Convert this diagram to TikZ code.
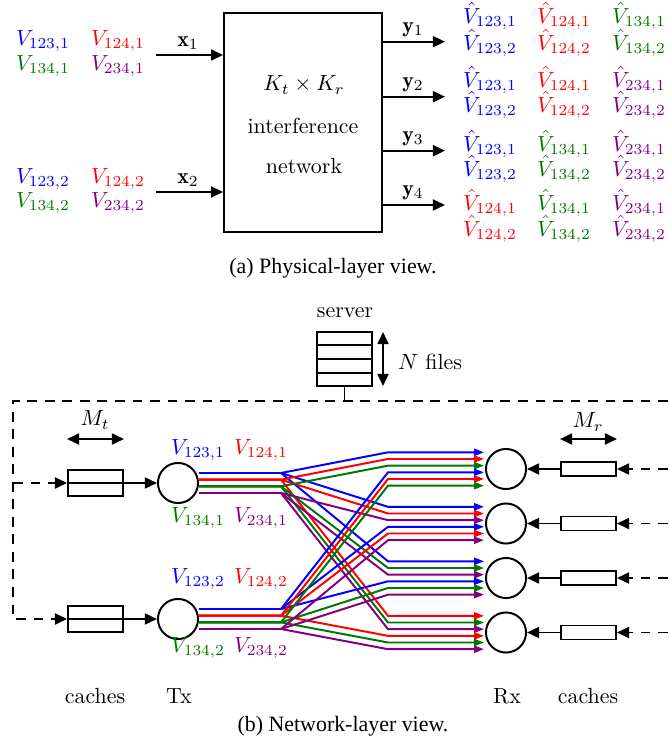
\documentclass[tikz,border=0pt]{standalone}
\usepackage{fontspec}
\newfontfamily\capfont{Liberation Serif}
\usetikzlibrary{arrows.meta,calc}
\definecolor{fblue}{RGB}{0,0,255}
\definecolor{fred}{RGB}{255,0,0}
\definecolor{fgreen}{RGB}{0,120,0}
\definecolor{fpurple}{RGB}{128,0,128}
\begin{document}
\begin{tikzpicture}[x=0.4566pt,y=-0.4566pt,
  blk/.style={line width=0.9pt},
  barrow/.style={-{Triangle[length=5.5pt,width=5pt]}},
  dbarrow/.style={{Triangle[length=5.5pt,width=5pt]}-{Triangle[length=5.5pt,width=5pt]}},
  carrow/.style={line width=0.9pt,-{Triangle[length=4.5pt,width=3.2pt]}},
  dsh/.style={line width=0.9pt,dash pattern=on 4.5pt off 3.5pt},
  circ/.style={draw,circle,line width=0.9pt,minimum size=18.3pt,inner sep=0pt},
  txcache/.style={draw,rectangle,line width=0.9pt,minimum width=25.1pt,minimum height=11.9pt,inner sep=0pt},
  rxcache/.style={draw,rectangle,line width=0.9pt,minimum width=25.1pt,minimum height=6.4pt,inner sep=0pt},
  lbl/.style={inner sep=0pt},
]
\useasboundingbox (0,0) rectangle (668,740);

% ---------------- (a) physical-layer view ----------------
\node[lbl,text=fblue]   (a1) at (43,41)  {$V_{123,1}$};
\node[lbl,text=fred]    (a2) at (118,41) {$V_{124,1}$};
\node[lbl,text=fgreen]  (a3) at (43,66)  {$V_{134,1}$};
\node[lbl,text=fpurple] (a4) at (118,66) {$V_{234,1}$};
\node[lbl,text=fblue]   (b1) at (43,179)  {$V_{123,2}$};
\node[lbl,text=fred]    (b2) at (118,179) {$V_{124,2}$};
\node[lbl,text=fgreen]  (b3) at (43,203)  {$V_{134,2}$};
\node[lbl,text=fpurple] (b4) at (118,203) {$V_{234,2}$};

\node[draw,blk,minimum width=72.1pt,minimum height=100pt,inner sep=0pt] (net) at (303,122.5) {};
\node[lbl] (kt)   at (304,85)  {$K_t \times K_r$};
\node[lbl] (intf) at (303,126) {interference};
\node[lbl] (netw) at (304,166) {network};

\coordinate (x1s) at (156,55);
\coordinate (x2s) at (156,192);
\draw[blk,barrow] (x1s) -- (x1s -| net.west);
\draw[blk,barrow] (x2s) -- (x2s -| net.west);
\node[lbl] (x1l) at (188,43)  {$\mathbf{x}_1$};
\node[lbl] (x2l) at (188,180) {$\mathbf{x}_2$};

\foreach \n/\yy/\ly in {1/41.7/30, 2/96.7/85, 3/150.7/139, 4/205/193} {
  \coordinate (ye\n) at (445,\yy);
  \draw[blk,barrow] (ye\n -| net.east) -- (ye\n);
  \node[lbl] (yl\n) at (413,\ly) {$\mathbf{y}_\n$};
}

\foreach \g/\ya/\yb/\fa/\ca/\fb/\cb/\fc/\cc in
  {1/16/43/123/fblue/124/fred/134/fgreen,
   2/80/105/123/fblue/124/fred/234/fpurple,
   3/144/169/123/fblue/134/fgreen/234/fpurple,
   4/203/229/124/fred/134/fgreen/234/fpurple} {
  \node[lbl,text=\ca] (h\g a1) at (490,\ya) {$\hat{V}_{\fa,1}$};
  \node[lbl,text=\cb] (h\g b1) at (564,\ya) {$\hat{V}_{\fb,1}$};
  \node[lbl,text=\cc] (h\g c1) at (639,\ya) {$\hat{V}_{\fc,1}$};
  \node[lbl,text=\ca] (h\g a2) at (490,\yb) {$\hat{V}_{\fa,2}$};
  \node[lbl,text=\cb] (h\g b2) at (564,\yb) {$\hat{V}_{\fb,2}$};
  \node[lbl,text=\cc] (h\g c2) at (639,\yb) {$\hat{V}_{\fc,2}$};
}

\node[lbl,font=\capfont] (capa) at (333,268) {(a) Physical-layer view.};

% ---------------- (b) network-layer view ----------------
\node[lbl] (srvlbl) at (345,313) {server};
\node[draw,blk,minimum width=25.1pt,minimum height=24.7pt,inner sep=0pt] (srv) at (344.5,359) {};
\foreach \f in {0.25,0.5,0.75}
  \draw[blk] ($(srv.north west)!\f!(srv.south west)$) -- ($(srv.north east)!\f!(srv.south east)$);
\coordinate (nt) at (383,332);
\coordinate (nb) at (383,386);
\draw[blk,dbarrow] (nt) -- (nb);
\node[lbl] (nf) at (430,362) {$N$ files};

\coordinate (dtl) at (13,401);
\coordinate (dtr) at (668,401);
\draw[blk] (srv.south) -- (srv.south |- dtl);

% Tx side
\node[txcache] (tc1) at (95.5,483) {};
\node[txcache] (tc2) at (95.5,619) {};
\node[circ] (tx1) at (178,483) {};
\node[circ] (tx2) at (178,619) {};
\draw[dsh,barrow] (dtr) -- (dtl) |- (tc2.west);
\draw[dsh,barrow] (dtl |- tc1.west) -- (tc1.west);
\draw[blk,barrow] (tc1.west) -- (tx1);
\draw[blk,barrow] (tc2.west) -- (tx2);
\coordinate (mtl) at (67,439);
\coordinate (mtr) at (124,439);
\draw[blk,dbarrow] (mtl) -- (mtr);
\node[lbl] (mt) at (95,420) {$M_t$};

\node[lbl,text=fblue]   (t11) at (198,450) {$V_{123,1}$};
\node[lbl,text=fred]    (t12) at (261,450) {$V_{124,1}$};
\node[lbl,text=fgreen]  (t13) at (198,518) {$V_{134,1}$};
\node[lbl,text=fpurple] (t14) at (261,518) {$V_{234,1}$};
\node[lbl,text=fblue]   (t21) at (198,579) {$V_{123,2}$};
\node[lbl,text=fred]    (t22) at (261,579) {$V_{124,2}$};
\node[lbl,text=fgreen]  (t23) at (198,648) {$V_{134,2}$};
\node[lbl,text=fpurple] (t24) at (261,648) {$V_{234,2}$};

% Rx side
\foreach \k/\yc in {1/469,2/523.5,3/578,4/632.5} {
  \node[circ] (rx\k) at (506,\yc) {};
  \node[rxcache] (rc\k) at (588.5,\yc) {};
  \coordinate (re\k) at (668,\yc);
  \draw[blk,barrow] (rc\k.west) -- (rx\k);
  \draw[dsh,barrow] (re\k) -- (rc\k.east);
  \foreach \m in {0,...,5}
    \coordinate (e\k\m) at (484,{\yc+(\m-2.5)*6.67});
}
\coordinate (mrl) at (560,439);
\coordinate (mrr) at (617,439);
\draw[blk,dbarrow] (mrl) -- (mrr);
\node[lbl] (mr) at (588,422) {$M_r$};

\foreach \j/\yc in {1/483,2/619}
  \foreach \i in {0,...,3}
    \coordinate (s\j\i) at (199,{\yc+(\i-1.5)*6.67});

\foreach \j/\i/\k/\m/\c in {
  1/0/1/0/fblue, 1/0/2/0/fblue, 1/0/3/0/fblue,
  1/1/1/1/fred, 1/1/2/1/fred, 1/1/4/0/fred,
  1/2/1/2/fgreen, 1/2/3/1/fgreen, 1/2/4/1/fgreen,
  1/3/2/2/fpurple, 1/3/3/2/fpurple, 1/3/4/2/fpurple,
  2/0/1/3/fblue, 2/0/2/3/fblue, 2/0/3/3/fblue,
  2/1/1/4/fred, 2/1/2/4/fred, 2/1/4/3/fred,
  2/2/1/5/fgreen, 2/2/3/4/fgreen, 2/2/4/4/fgreen,
  2/3/2/5/fpurple, 2/3/3/5/fpurple, 2/3/4/5/fpurple} {
  \draw[carrow,\c] (s\j\i) -- ++(82,0) -- ($(e\k\m)+(-96,0)$) -- (e\k\m);
}

\node[lbl] (cl) at (95,696)  {caches};
\node[lbl] (txl) at (179,696) {Tx};
\node[lbl] (rxl) at (507,696) {Rx};
\node[lbl] (cr) at (588,696) {caches};
\node[lbl,font=\capfont] (capb) at (343,726) {(b) Network-layer view.};
\end{tikzpicture}
\end{document}
